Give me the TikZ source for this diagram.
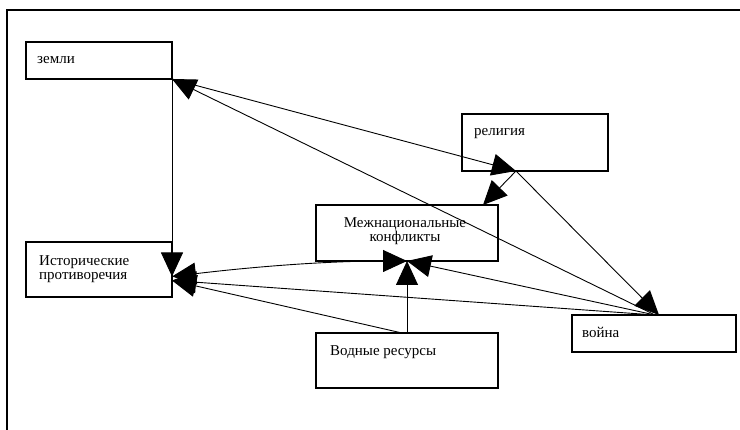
\documentclass[tikz,border=0pt]{standalone}
\usepackage{fontspec}
\setmainfont{Liberation Serif}
\usetikzlibrary{arrows.meta,calc}
\begin{document}
\begin{tikzpicture}[x=1pt,y=-1pt,
  box/.style={draw, line width=1.1pt, inner sep=0pt, outer sep=0pt, anchor=north west},
  lbl/.style={inner sep=0pt, anchor=base west, font=\fontsize{15}{14}\selectfont},
  conn/.style={line width=0.9pt},
  bigtip/.style={-{Triangle[length=24pt,width=22pt]}},
  bigtips/.style={{Triangle[length=24pt,width=22pt]}-{Triangle[length=24pt,width=22pt]}}]
\useasboundingbox (0,0) rectangle (740,430);
\draw[line width=1.2pt] (7,432) -- (7,10) -- (742,10);
% boxes
\node[box, minimum width=146pt, minimum height=37pt] (zemli) at (26,42) {};
\node[box, minimum width=146pt, minimum height=57pt] (relig) at (462,114) {};
\node[box, minimum width=182pt, minimum height=56pt] (mezh) at (316,205) {};
\node[box, minimum width=146pt, minimum height=55pt] (ist) at (26,242) {};
\node[box, minimum width=182pt, minimum height=55pt] (vod) at (316,333) {};
\node[box, minimum width=164pt, minimum height=37pt] (voina) at (572,315) {};
% texts
\node[lbl] (zemli-t) at (37,64) {земли};
\node[lbl] (relig-t) at (474,136) {религия};
\node[lbl, anchor=base, align=center] (mezh-t) at (405,242) {Межнациональные\\конфликты};
\node[lbl, align=left] (ist-t) at (39,280) {Исторические\\противоречия};
\node[lbl] (vod-t) at (330,356) {Водные ресурсы};
\node[lbl] (voina-t) at (582,338) {война};
% points
\coordinate (P) at ($(relig.south west)+(54,0)$);
\coordinate (W) at ($(voina.north west)+(83,0)$);
\coordinate (Wr) at ($(voina.north west)+(87,0)$);
% connectors
\draw[conn, bigtip] (zemli.south east) -- (P);
\draw[conn, bigtip] (P) -- ($(mezh.north east)+(-15,0)$);
\draw[conn, bigtip] (P) -- (Wr);
\draw[conn, bigtip] (W) -- (zemli.south east);
\draw[conn, bigtip] (W) -- (mezh.south);
\draw[conn, bigtip] (W) -- ($(ist.east)+(0,11)$);
\draw[conn, bigtip] ($(vod.north)+(-5,0)$) -- ($(ist.east)+(0,11)$);
\draw[conn, bigtip] (vod.north) -- (mezh.south);
\draw[conn, bigtips] (mezh.south) .. controls (330,261) and (260,266) .. ($(ist.east)+(0,7)$);
\draw[conn, bigtip] (zemli.south east) -- ($(ist.east)+(0,7)$);
\end{tikzpicture}
\end{document}
